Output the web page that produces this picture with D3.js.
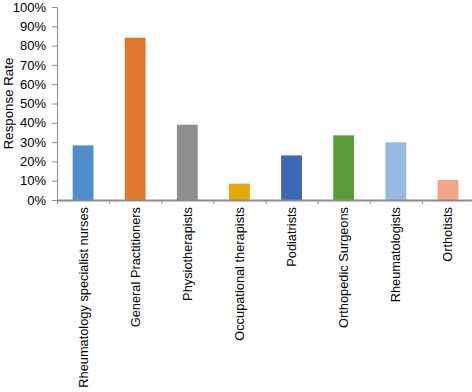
<!DOCTYPE html>
<html>
<head>
<meta charset="utf-8">
<style>
body { margin: 0; background: #fff; }
svg { font-family: "Liberation Sans", Arial, sans-serif; }
.axis text { font-size: 13px; fill: #000; }
.axis path, .axis line { stroke: #8c8c8c; }
.cat { font-size: 12.8px; fill: #000; }
</style>
</head>
<body>
<svg width="472" height="392"></svg>
<script src="https://cdn.jsdelivr.net/npm/d3@7/dist/d3.min.js"></script>
<script>

// data
var categories = ["Rheumatology specialist nurses", "General Practitioners", "Physiotherapists",
  "Occupational therapists", "Podiatrists", "Orthopedic Surgeons", "Rheumatologists", "Orthotists"];
var rates = [0.283, 0.841, 0.390, 0.085, 0.231, 0.335, 0.299, 0.104];
var colors = ["#4f8dcd", "#e0772c", "#8e8e8e", "#e4aa0a", "#3e68b4", "#5e9b3d", "#96bae4", "#f3a486"];
var yTicks = [0, 0.1, 0.2, 0.3, 0.4, 0.5, 0.6, 0.7, 0.8, 0.9, 1.0];

var svg = d3.select("svg");
var plotLeft = 57, plotRight = 474, plotTop = 7, plotZero = 200;

var x = d3.scaleBand()
  .domain(categories)
  .range([plotLeft, plotRight]);

// boundaries between categories, for the x tick marks
var xb = d3.scaleLinear()
  .domain([0, categories.length])
  .range([plotLeft, plotRight]);

var y = d3.scaleLinear()
  .domain([0, 1])
  .range([plotZero, plotTop]);

// bars
svg.append("g").selectAll("rect")
  .data(rates)
  .enter().append("rect")
  .attr("x", function(d, i) { return x(categories[i]) + x.bandwidth() * 0.3; })
  .attr("width", x.bandwidth() * 0.4)
  .attr("y", function(d) { return y(d); })
  .attr("height", function(d) { return y(0) - y(d); })
  .attr("fill", function(d, i) { return colors[i]; });

// y axis
var gy = svg.append("g")
  .attr("class", "axis")
  .attr("transform", "translate(" + plotLeft + ",0)")
  .call(d3.axisLeft(y).tickValues(yTicks).tickFormat(d3.format(".0%")).tickSize(5).tickSizeOuter(0).tickPadding(6));
gy.select(".domain").attr("stroke", "#8c8c8c");

// x axis
var gx = svg.append("g")
  .attr("class", "axis")
  .attr("transform", "translate(0," + plotZero + ")")
  .call(d3.axisBottom(xb).tickValues(d3.range(0, categories.length)).tickFormat("").tickSize(4).tickSizeOuter(0));
gx.select(".domain").attr("stroke", "#959595").attr("stroke-width", 2.2);

// category labels
svg.append("g").selectAll("text")
  .data(categories)
  .enter().append("text")
  .attr("class", "cat")
  .attr("transform", function(d) { return "translate(" + (x(d) + x.bandwidth() / 2) + "," + (plotZero + 7) + ") rotate(-90)"; })
  .attr("dy", "0.35em")
  .attr("text-anchor", "end")
  .text(function(d) { return d; });

// y title
svg.append("text")
  .attr("class", "cat")
  .style("font-size", "13.3px")
  .attr("transform", "translate(8," + (y(0.5)) + ") rotate(-90)")
  .attr("dy", "0.35em")
  .attr("text-anchor", "middle")
  .text("Response Rate");

</script>
</body>
</html>
